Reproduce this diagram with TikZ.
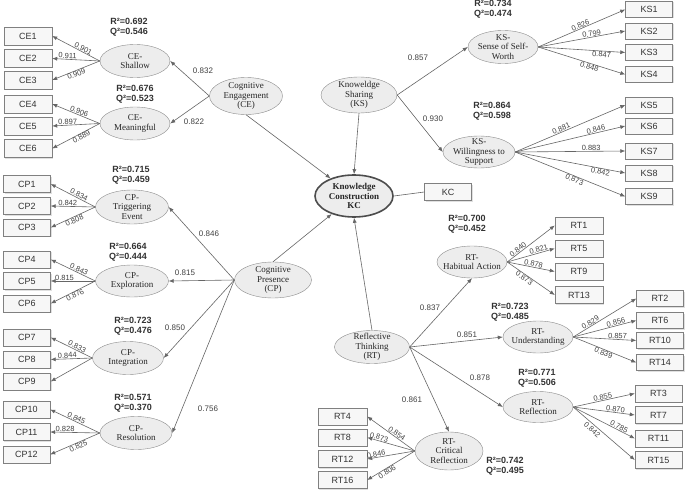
\documentclass[tikz,border=0pt]{standalone}
\usepackage{fontspec}
\setmainfont{Liberation Serif}
\setsansfont{Liberation Sans}
\usetikzlibrary{shapes.geometric,arrows.meta,shadows}
\begin{document}
\begin{tikzpicture}[x=1pt,y=-1pt,
 lat/.style={ellipse, draw=black!45, fill=black!7, inner sep=-12pt, minimum width=70pt, minimum height=33pt, align=center, font=\fontsize{9}{9.5}\selectfont, text=black!85},
 ind/.style={rectangle, draw=black!50, fill=black!3, minimum width=47pt, minimum height=17pt, inner sep=0pt, font=\sffamily\fontsize{9}{10}\selectfont, text=black!80, drop shadow={shadow xshift=1pt, shadow yshift=-1pt, opacity=.3, fill=black!40}},
 arr/.style={draw=black!60, line width=0.6pt, -{Latex[length=5pt,width=4pt]}},
 con/.style={draw=black!60, line width=0.6pt},
 lbl/.style={font=\sffamily\fontsize{7.5}{8}\selectfont, text=black!75, inner sep=0.5pt},
 plbl/.style={font=\sffamily\fontsize{8}{9}\selectfont, text=black!75, inner sep=0pt},
 rq/.style={font=\sffamily\bfseries\fontsize{9}{10}\selectfont, align=center, text=black!80, inner sep=0pt}
]
\useasboundingbox (0,0) rectangle (685,492);
\fill[white] (0,0) rectangle (685,492);

% ---------- latent variables ----------
\node[lat] (ces) at (135,61) {CE-\\Shallow};
\node[lat] (cem) at (135,123.5) {CE-\\Meaningful};
\node[lat, minimum width=73pt, minimum height=37pt] (ce) at (246,96) {Cognitive\\Engagement\\(CE)};
\node[lat, minimum width=76pt, minimum height=36pt] (ks) at (359,95) {Knoweldge\\Sharing\\(KS)};
\node[lat, minimum width=78pt, minimum height=42pt, draw=black!70, line width=1.6pt, font=\bfseries\fontsize{9}{9.5}\selectfont] (kc) at (354,196) {Knowledge\\Construction\\KC};
\node[ind] (kcb) at (448,192) {KC};
\node[lat, minimum width=77pt, minimum height=36pt] (cp) at (273,280) {Cognitive\\Presence\\(CP)};
\node[lat, minimum width=73pt, minimum height=34pt] (cpt) at (132,207) {CP-\\Triggering\\Event};
\node[lat, minimum width=73pt, minimum height=32pt] (cpe) at (132,281) {CP-\\Exploration};
\node[lat, minimum width=71pt] (cpi) at (128,358) {CP-\\Integration};
\node[lat, minimum width=72pt] (cpr) at (136,433) {CP-\\Resolution};
\node[lat] (kss) at (503,47) {KS-\\Sense of Self-\\Worth};
\node[lat, minimum width=72pt, minimum height=32pt] (ksw) at (479,152) {KS-\\Willingness to\\Support};
\node[lat, minimum width=75pt, minimum height=33pt] (rt) at (372,347) {Reflective\\Thinking\\(RT)};
\node[lat, minimum height=32pt] (rtha) at (472,262) {RT-\\Habitual Action};
\node[lat, minimum height=32pt] (rtu) at (538,337) {RT-\\Understanding};
\node[lat, minimum height=31pt] (rtr) at (538,407) {RT-\\Reflection};
\node[lat, minimum width=68pt, minimum height=38pt] (rtc) at (449,451) {RT-\\Critical\\Reflection};

% ---------- indicators ----------
\node[ind, minimum width=48pt, minimum height=18pt] (ce1) at (28,36) {CE1};
\node[ind, minimum width=48pt, minimum height=18pt] (ce2) at (28,58.5) {CE2};
\node[ind, minimum width=48pt, minimum height=18pt] (ce3) at (28,80) {CE3};
\node[ind, minimum width=48pt, minimum height=18pt] (ce4) at (28,104) {CE4};
\node[ind, minimum width=48pt, minimum height=18pt] (ce5) at (28,126) {CE5};
\node[ind, minimum width=48pt, minimum height=18pt] (ce6) at (28,148.5) {CE6};

\node[ind] (cp1) at (27,184) {CP1};
\node[ind] (cp2) at (27,206) {CP2};
\node[ind] (cp3) at (27,227.5) {CP3};
\node[ind] (cp4) at (27,259.5) {CP4};
\node[ind] (cp5) at (27,281) {CP5};
\node[ind] (cp6) at (27,303.5) {CP6};
\node[ind] (cp7) at (27,337.5) {CP7};
\node[ind] (cp8) at (27,359.5) {CP8};
\node[ind] (cp9) at (27,381.5) {CP9};
\node[ind] (cp10) at (26.5,409.5) {CP10};
\node[ind] (cp11) at (26.5,432) {CP11};
\node[ind] (cp12) at (26.5,454.5) {CP12};

\node[ind, minimum height=16pt] (ks1) at (649,9.5) {KS1};
\node[ind, minimum height=16pt] (ks2) at (649,31) {KS2};
\node[ind, minimum height=16pt] (ks3) at (649,52.5) {KS3};
\node[ind, minimum height=16pt] (ks4) at (649,74.5) {KS4};
\node[ind, minimum height=16pt] (ks5) at (649,105) {KS5};
\node[ind, minimum height=16pt] (ks6) at (649,126) {KS6};
\node[ind, minimum height=16pt] (ks7) at (649,151) {KS7};
\node[ind, minimum height=16pt] (ks8) at (649,173) {KS8};
\node[ind, minimum height=16pt] (ks9) at (649,196.5) {KS9};

\node[ind, minimum width=48pt] (rt1) at (579,225.5) {RT1};
\node[ind, minimum width=48pt] (rt5) at (579,248.5) {RT5};
\node[ind, minimum width=48pt] (rt9) at (579,271.5) {RT9};
\node[ind, minimum width=48pt] (rt13) at (579,295) {RT13};

\node[ind, minimum height=16pt] (rt2) at (660,298.5) {RT2};
\node[ind, minimum height=16pt] (rt6) at (660,320.5) {RT6};
\node[ind, minimum height=16pt] (rt10) at (660,340.5) {RT10};
\node[ind, minimum height=16pt] (rt14) at (660,362.5) {RT14};

\node[ind] (rt3) at (658.5,393.5) {RT3};
\node[ind] (rt7) at (658.5,415) {RT7};
\node[ind] (rt11) at (658.5,438.5) {RT11};
\node[ind] (rt15) at (658.5,460) {RT15};

\node[ind, minimum width=49pt] (rt4) at (342.5,416.5) {RT4};
\node[ind, minimum width=49pt] (rt8) at (342.5,437.5) {RT8};
\node[ind, minimum width=49pt] (rt12) at (342.5,459) {RT12};
\node[ind, minimum width=49pt] (rt16) at (342.5,480) {RT16};

% ---------- structural paths ----------
\draw[arr] (ce.west) -- (ces.east);
\draw[arr] (ce.west) -- (cem.east);
\draw[arr] (ce.south) -- (kc);
\draw[arr] (ks.south) -- (kc.north);
\draw[arr] (cp.north) -- (kc);
\draw[arr] (rt.north) -- (kc.south);
\draw[con] (kc.east) -- (kcb.west);
\draw[arr] (cp.west) -- (cpt.east);
\draw[arr] (cp.west) -- (cpe.east);
\draw[arr] (cp.west) -- (cpi.east);
\draw[arr] (cp.west) -- (cpr.east);
\draw[arr] (ks.east) -- (kss.west);
\draw[arr] (ks.east) -- (ksw.west);
\draw[arr] (rt.east) -- (rtha.south);
\draw[arr] (rt.east) -- (rtu.west);
\draw[arr] (rt.east) -- (rtr.west);
\draw[arr] (rt.east) -- (rtc.north);

\node[plbl] (p1) at (203,71) {0.832};
\node[plbl] (p2) at (194,122) {0.822};
\node[plbl] (p3) at (209,234) {0.846};
\node[plbl] (p4) at (185,273) {0.815};
\node[plbl] (p5) at (175,328) {0.850};
\node[plbl] (p6) at (208,409) {0.756};
\node[plbl] (p7) at (418,58) {0.857};
\node[plbl] (p8) at (433,119) {0.930};
\node[plbl] (p9) at (430,308) {0.837};
\node[plbl] (p10) at (467,335) {0.851};
\node[plbl] (p11) at (480,378) {0.878};
\node[plbl] (p12) at (412,400) {0.861};

% ---------- R2 / Q2 ----------
\node[rq] (r1) at (129,27.5) {R²=0.692\\Q²=0.546};
\node[rq] (r2) at (135,94.5) {R²=0.676\\Q²=0.523};
\node[rq] (r3) at (131,175) {R²=0.715\\Q²=0.459};
\node[rq] (r4) at (128,252.5) {R²=0.664\\Q²=0.444};
\node[rq] (r5) at (133,326) {R²=0.723\\Q²=0.476};
\node[rq] (r6) at (133,403) {R²=0.571\\Q²=0.370};
\node[rq] (r7) at (493,9) {R²=0.734\\Q²=0.474};
\node[rq] (r8) at (492,111) {R²=0.864\\Q²=0.598};
\node[rq] (r9) at (467,224) {R²=0.700\\Q²=0.452};
\node[rq] (r10) at (510,312) {R²=0.723\\Q²=0.485};
\node[rq] (r11) at (537,378.5) {R²=0.771\\Q²=0.506};
\node[rq] (r12) at (505,466) {R²=0.742\\Q²=0.495};

% ---------- loadings ----------
\draw[arr] (ces.west) -- node[lbl,sloped,above,pos=.38] (a1) {0.901} (ce1.east);
\draw[arr] (ces.west) -- node[lbl,sloped,above,pos=.68] (a2) {0.911} (ce2.east);
\draw[arr] (ces.west) -- node[lbl,sloped,below,pos=.52] (a3) {0.909} (ce3.east);
\draw[arr] (cem.west) -- node[lbl,sloped,above,pos=.46] (a4) {0.906} (ce4.east);
\draw[arr] (cem.west) -- node[lbl,sloped,above,pos=.67] (a5) {0.897} (ce5.east);
\draw[arr] (cem.west) -- node[lbl,sloped,below,pos=.42] (a6) {0.889} (ce6.east);

\draw[arr] (cpt.west) -- node[lbl,sloped,above,pos=.4] (b1) {0.834} (cp1.east);
\draw[arr] (cpt.west) -- node[lbl,sloped,above,pos=.62] (b2) {0.842} (cp2.east);
\draw[arr] (cpt.west) -- node[lbl,sloped,below,pos=.5] (b3) {0.808} (cp3.east);
\draw[arr] (cpe.west) -- node[lbl,sloped,above,pos=.4] (b4) {0.843} (cp4.east);
\draw[arr] (cpe.west) -- node[lbl,sloped,above,pos=.69] (b5) {0.815} (cp5.east);
\draw[arr] (cpe.west) -- node[lbl,sloped,below,pos=.49] (b6) {0.876} (cp6.east);
\draw[arr] (cpi.west) -- node[lbl,sloped,above,pos=.4] (b7) {0.833} (cp7.east);
\draw[arr] (cpi.west) -- node[lbl,sloped,above,pos=.6] (b8) {0.844} (cp8.east);
\draw[arr] (cpi.west) -- (cp9.east);
\draw[arr] (cpr.west) -- node[lbl,sloped,above,pos=.5] (b10) {0.845} (cp10.east);
\draw[arr] (cpr.west) -- node[lbl,sloped,above,pos=.7] (b11) {0.828} (cp11.east);
\draw[arr] (cpr.west) -- node[lbl,sloped,below,pos=.46] (b12) {0.825} (cp12.east);

\draw[arr] (kss.east) -- node[lbl,sloped,above,pos=.5] (c1) {0.826} (ks1.west);
\draw[arr] (kss.east) -- node[lbl,sloped,above,pos=.62] (c2) {0.799} (ks2.west);
\draw[arr] (kss.east) -- node[lbl,sloped,below,pos=.73] (c3) {0.847} (ks3.west);
\draw[arr] (kss.east) -- node[lbl,sloped,below,pos=.6] (c4) {0.848} (ks4.west);
\draw[arr] (ksw.east) -- node[lbl,sloped,above,pos=.43] (c5) {0.881} (ks5.west);
\draw[arr] (ksw.east) -- node[lbl,sloped,above,pos=.74] (c6) {0.846} (ks6.west);
\draw[arr] (ksw.east) -- node[lbl,sloped,above,pos=.69] (c7) {0.883} (ks7.west);
\draw[arr] (ksw.east) -- node[lbl,sloped,below,pos=.78] (c8) {0.842} (ks8.west);
\draw[arr] (ksw.east) -- node[lbl,sloped,below,pos=.55] (c9) {0.873} (ks9.west);

\draw[arr] (rtha.east) -- node[lbl,sloped,above,pos=.27] (d1) {0.840} (rt1.west);
\draw[arr] (rtha.east) -- node[lbl,sloped,above,pos=.68] (d2) {0.821} (rt5.west);
\draw[arr] (rtha.east) -- node[lbl,sloped,above,pos=.54] (d3) {0.878} (rt9.west);
\draw[arr] (rtha.east) -- node[lbl,sloped,below,pos=.4] (d4) {0.873} (rt13.west);

\draw[arr] (rtu.east) -- node[lbl,sloped,above,pos=.3] (e1) {0.829} (rt2.west);
\draw[arr] (rtu.east) -- node[lbl,sloped,above,pos=.69] (e2) {0.856} (rt6.west);
\draw[arr] (rtu.east) -- node[lbl,sloped,above,pos=.7] (e3) {0.857} (rt10.west);
\draw[arr] (rtu.east) -- node[lbl,sloped,below,pos=.5] (e4) {0.839} (rt14.west);

\draw[arr] (rtr.east) -- node[lbl,sloped,above,pos=.49] (f1) {0.855} (rt3.west);
\draw[arr] (rtr.east) -- node[lbl,sloped,above,pos=.68] (f2) {0.870} (rt7.west);
\draw[arr] (rtr.east) -- node[lbl,sloped,above,pos=.72] (f3) {0.785} (rt11.west);
\draw[arr] (rtr.east) -- node[lbl,sloped,below=1.5pt,pos=.36] (f4) {0.842} (rt15.west);

\draw[arr] (rtc.west) -- node[lbl,sloped,above,pos=.42] (g1) {0.854} (rt4.east);
\draw[arr] (rtc.west) -- node[lbl,sloped,above,pos=.77] (g2) {0.873} (rt8.east);
\draw[arr] (rtc.west) -- node[lbl,sloped,above,pos=.8] (g3) {0.846} (rt12.east);
\draw[arr] (rtc.west) -- node[lbl,sloped,below,pos=.62] (g4) {0.806} (rt16.east);
\end{tikzpicture}
\end{document}
